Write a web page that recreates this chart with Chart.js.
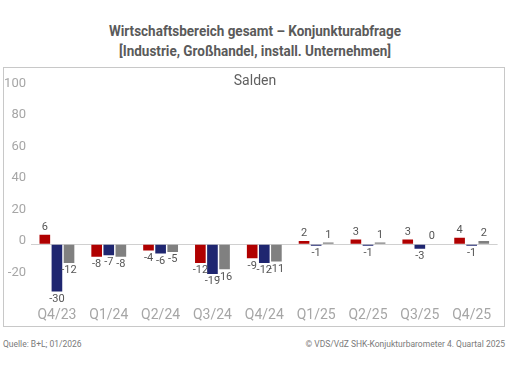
<!DOCTYPE html>
<html>
<head>
<meta charset="utf-8">
<script src="https://cdn.jsdelivr.net/npm/chart.js@4.4.1/dist/chart.umd.min.js"></script>
<style>
    body { margin: 0; width: 510px; height: 368px; background: #fff; font-family: Roboto, sans-serif; position: relative; overflow: hidden; }
    .titel { position: absolute; left: 0; width: 510px; top: 21px; text-align: center; color: #5a5a5a; font-weight: bold; font-size: 15.5px; line-height: 20px; transform: scaleX(0.87); transform-origin: 255px 0; }
    .box { position: absolute; left: 3px; top: 67px; width: 500px; height: 258px; border: 1px solid #c8c8c8; }
    .box canvas { display: block; }
    .salden { position: absolute; left: 0; width: 510px; top: 72px; text-align: center; color: #606060; font-size: 14px; }
    .quelle { position: absolute; left: 3px; top: 339px; font-size: 8.5px; color: #7a7a7a; }
    .copy { position: absolute; right: 5px; top: 339px; font-size: 8.5px; color: #7a7a7a; }
</style>
</head>
<body>
<div class="titel">Wirtschaftsbereich gesamt – Konjunkturabfrage<br>[Industrie, Großhandel, install. Unternehmen]</div>
<div class="box"><canvas id="chartSalden" width="500" height="258"></canvas></div>
<div class="salden">Salden</div>
<div class="quelle">Quelle: B+L; 01/2026</div>
<div class="copy">© VDS/VdZ SHK-Konjukturbarometer 4. Quartal 2025</div>
<script>
const quartale = ['Q4/23', 'Q1/24', 'Q2/24', 'Q3/24', 'Q4/24', 'Q1/25', 'Q2/25', 'Q3/25', 'Q4/25'];
const reihe1 = [6, -8, -4, -12, -9, 2, 3, 3, 4];
const reihe2 = [-30, -7, -6, -19, -12, -1, -1, -3, -1];
const reihe3 = [-12, -8, -5, -16, -11, 1, 1, 0, 2];
const yTicks = [-20, 0, 20, 40, 60, 80, 100];

// Werte an die Balken schreiben
const wertePlugin = {
    id: 'werte',
    afterDatasetsDraw(chart) {
        const ctx = chart.ctx;
        ctx.save();
        ctx.font = '11px Roboto';
        ctx.fillStyle = '#555';
        ctx.textAlign = 'center';
        chart.data.datasets.forEach((ds, i) => {
            chart.getDatasetMeta(i).data.forEach((bar, j) => {
                const v = ds.data[j];
                if (v >= 0) {
                    ctx.textBaseline = 'bottom';
                    ctx.fillText(v, bar.x, bar.y - 2);
                } else {
                    ctx.textBaseline = 'top';
                    ctx.fillText(v, bar.x, bar.y + 2);
                }
            });
        });
        ctx.restore();
    }
};

const data = {
    labels: quartale,
    datasets: [
        { label: 'Reihe 1', data: reihe1, backgroundColor: '#b00000' },
        { label: 'Reihe 2', data: reihe2, backgroundColor: '#1f2670' },
        { label: 'Reihe 3', data: reihe3, backgroundColor: '#808080' }
    ]
};

const config = {
    type: 'bar',
    data: data,
    plugins: [wertePlugin],
    options: {
        responsive: false,
        animation: false,
        datasets: { bar: { categoryPercentage: 0.7, barPercentage: 0.88 } },
        layout: { padding: { top: 18.6, right: 6.4, bottom: 0, left: 0 } },
        plugins: { legend: { display: false }, tooltip: { enabled: false } },
        scales: {
            x: {
                afterFit: (scale) => { scale.height = 22; },
                grid: { display: false, drawTicks: false },
                border: { display: false },
                ticks: { color: '#a6a6a6', font: { family: 'Roboto', size: 14 }, padding: 3, maxRotation: 0 }
            },
            y: {
                min: -38,
                max: 100,
                afterBuildTicks: (scale) => { scale.ticks = yTicks.map((v) => ({ value: v })); },
                afterFit: (scale) => { scale.width = 27; },
                border: { display: false },
                grid: {
                    drawTicks: false,
                    color: (c) => c.tick && c.tick.value === 0 ? '#d0d0d0' : 'rgba(0,0,0,0)'
                },
                ticks: { color: '#a6a6a6', font: { family: 'Roboto', size: 13 }, padding: 5, labelOffset: -3 }
            }
        }
    }
};

const canvasSalden = document.getElementById('chartSalden');
const graficoSalden = new Chart(canvasSalden, config);
</script>
</body>
</html>
